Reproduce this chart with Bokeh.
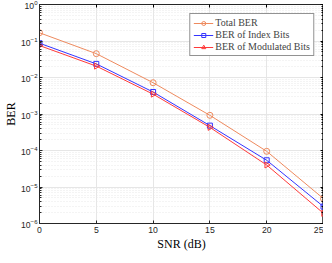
from bokeh.plotting import figure
from bokeh.models import Range1d, LogAxis, LinearAxis, Legend, LegendItem, FixedTicker, LogTicker
from bokeh.embed import file_html
from bokeh.resources import INLINE

snr = [0, 5, 10, 15, 20, 25]
total_ber = [0.168, 0.045, 0.0072, 9.2e-4, 9.5e-5, 4.8e-6]
index_ber = [0.087, 0.0236, 0.0040, 4.8e-4, 5.4e-5, 2.9e-6]
mod_ber = [0.075, 0.0205, 0.0035, 4.3e-4, 4.0e-5, 1.9e-6]
x_ticks = [0, 5, 10, 15, 20, 25]

c_total = "#EE8A5E"
c_index = "#3434FF"
c_mod = "#FF3A3A"

p = figure(width=316, height=247, output_backend="svg", toolbar_location=None,
           y_axis_type="log", x_range=Range1d(0, 25), y_range=Range1d(1e-6, 1),
           min_border_left=0, min_border_right=0, min_border_top=4, min_border_bottom=0)
p.frame_width = 284
p.frame_height = 219

p.outline_line_color = "#262626"
p.outline_line_width = 0.8

tick_font = "Liberation Sans"
for ax in [p.xaxis[0], p.yaxis[0]]:
    ax.major_tick_in = 3
    ax.major_tick_out = 0
    ax.minor_tick_in = 2
    ax.minor_tick_out = 0
    ax.axis_line_color = "#262626"
    ax.major_tick_line_color = "#262626"
    ax.minor_tick_line_color = "#262626"
    ax.major_label_text_font = tick_font
    ax.major_label_text_font_size = "6.5pt"
    ax.major_label_text_color = "#262626"
    ax.axis_label_text_font = "Liberation Serif"
    ax.axis_label_text_font_style = "normal"
    ax.axis_label_text_font_size = "9pt"
    ax.axis_label_text_color = "#000000"

p.xaxis[0].ticker = FixedTicker(ticks=x_ticks)
p.xaxis[0].minor_tick_in = 0
p.xaxis[0].axis_label = "SNR (dB)"
p.xaxis[0].axis_label_standoff = 1
p.xaxis[0].major_label_standoff = 3
p.yaxis[0].axis_label = "BER"
p.yaxis[0].axis_label_standoff = 0
p.yaxis[0].major_label_standoff = 2
p.yaxis[0].ticker = LogTicker(num_minor_ticks=10)

# mirrored axes (box)
ra = LogAxis(ticker=LogTicker(num_minor_ticks=10), major_label_text_alpha=0, major_label_text_font_size="1pt",
             major_tick_in=3, major_tick_out=0, minor_tick_in=2, minor_tick_out=0,
             major_label_standoff=0, axis_line_color="#262626")
ta = LinearAxis(ticker=FixedTicker(ticks=x_ticks), major_label_text_alpha=0, major_label_text_font_size="1pt",
                major_tick_in=3, major_tick_out=0, minor_tick_in=0, minor_tick_out=0,
                major_label_standoff=0, axis_line_color="#262626")
p.add_layout(ra, "right")
p.add_layout(ta, "above")

p.xgrid.grid_line_color = "#E6E6E6"
p.ygrid.grid_line_color = "#E6E6E6"
p.ygrid.minor_grid_line_color = "#E8E8E8"
p.ygrid.minor_grid_line_dash = "1 2"

l1 = p.line(snr, total_ber, line_color=c_total, line_width=1)
s1 = p.scatter(snr, total_ber, marker="circle", size=6, line_color=c_total, fill_color=None, line_width=1)
l2 = p.line(snr, index_ber, line_color=c_index, line_width=1)
s2 = p.scatter(snr, index_ber, marker="square", size=5, line_color=c_index, fill_color=None, line_width=1)
l3 = p.line(snr, mod_ber, line_color=c_mod, line_width=1)
s3 = p.scatter(snr, mod_ber, marker="triangle", angle=-1.5708, size=6, line_color=c_mod, fill_color=None, line_width=1)

legend = Legend(items=[
    LegendItem(label="Total BER", renderers=[l1, s1]),
    LegendItem(label="BER of Index Bits", renderers=[l2, s2]),
    LegendItem(label="BER of Modulated Bits", renderers=[l3, s3]),
], location="top_right")
legend.label_text_font = "Liberation Serif"
legend.label_text_font_size = "7.5pt"
legend.label_height = 10
legend.glyph_height = 10
legend.glyph_width = 20
legend.spacing = 1
legend.padding = 3
legend.margin = 9
legend.label_standoff = 2
legend.border_line_color = "#262626"
legend.border_line_width = 0.8
legend.background_fill_alpha = 1
p.add_layout(legend)

open("out.html", "w").write(file_html(p, INLINE))
